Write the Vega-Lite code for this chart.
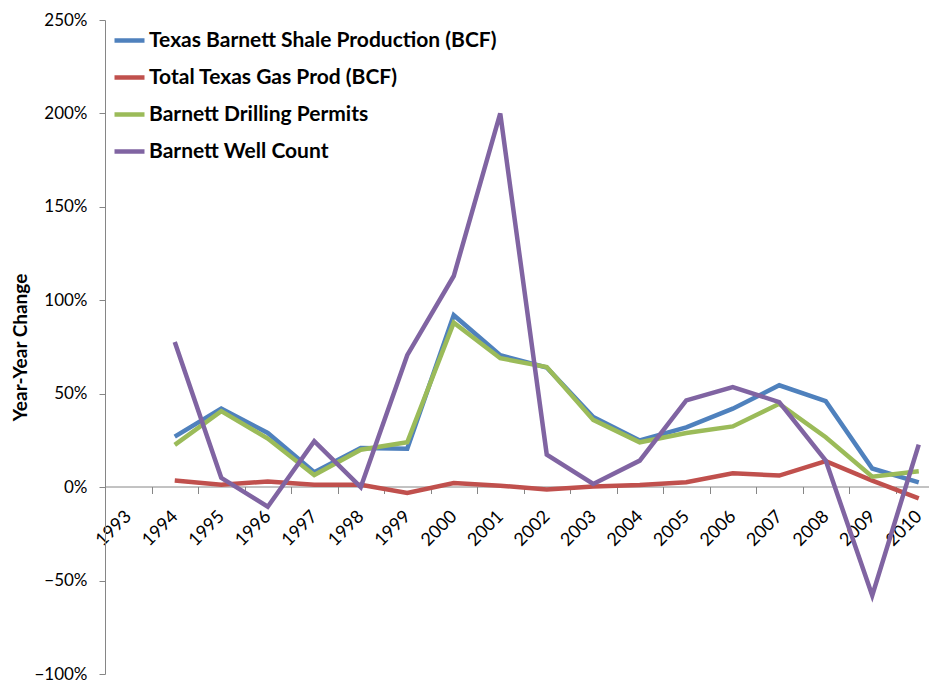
{
  "$schema": "https://vega.github.io/schema/vega-lite/v6.json",
  "autosize": {"type": "none"},
  "padding": {"left": 105, "top": 20, "right": 0, "bottom": 8},
  "width": 824,
  "height": 654,
  "config": {"font": "Lato", "view": {"stroke": null}},
  "data": {
    "values": [
      {"year": "1994", "series": "Texas Barnett Shale Production (BCF)", "value": 0.27},
      {"year": "1995", "series": "Texas Barnett Shale Production (BCF)", "value": 0.42},
      {"year": "1996", "series": "Texas Barnett Shale Production (BCF)", "value": 0.29},
      {"year": "1997", "series": "Texas Barnett Shale Production (BCF)", "value": 0.08},
      {"year": "1998", "series": "Texas Barnett Shale Production (BCF)", "value": 0.21},
      {"year": "1999", "series": "Texas Barnett Shale Production (BCF)", "value": 0.205},
      {"year": "2000", "series": "Texas Barnett Shale Production (BCF)", "value": 0.92},
      {"year": "2001", "series": "Texas Barnett Shale Production (BCF)", "value": 0.706},
      {"year": "2002", "series": "Texas Barnett Shale Production (BCF)", "value": 0.64},
      {"year": "2003", "series": "Texas Barnett Shale Production (BCF)", "value": 0.375},
      {"year": "2004", "series": "Texas Barnett Shale Production (BCF)", "value": 0.25},
      {"year": "2005", "series": "Texas Barnett Shale Production (BCF)", "value": 0.32},
      {"year": "2006", "series": "Texas Barnett Shale Production (BCF)", "value": 0.42},
      {"year": "2007", "series": "Texas Barnett Shale Production (BCF)", "value": 0.545},
      {"year": "2008", "series": "Texas Barnett Shale Production (BCF)", "value": 0.46},
      {"year": "2009", "series": "Texas Barnett Shale Production (BCF)", "value": 0.10},
      {"year": "2010", "series": "Texas Barnett Shale Production (BCF)", "value": 0.026},
      {"year": "1994", "series": "Total Texas Gas Prod (BCF)", "value": 0.035},
      {"year": "1995", "series": "Total Texas Gas Prod (BCF)", "value": 0.013},
      {"year": "1996", "series": "Total Texas Gas Prod (BCF)", "value": 0.03},
      {"year": "1997", "series": "Total Texas Gas Prod (BCF)", "value": 0.013},
      {"year": "1998", "series": "Total Texas Gas Prod (BCF)", "value": 0.013},
      {"year": "1999", "series": "Total Texas Gas Prod (BCF)", "value": -0.031},
      {"year": "2000", "series": "Total Texas Gas Prod (BCF)", "value": 0.022},
      {"year": "2001", "series": "Total Texas Gas Prod (BCF)", "value": 0.008},
      {"year": "2002", "series": "Total Texas Gas Prod (BCF)", "value": -0.013},
      {"year": "2003", "series": "Total Texas Gas Prod (BCF)", "value": 0.004},
      {"year": "2004", "series": "Total Texas Gas Prod (BCF)", "value": 0.012},
      {"year": "2005", "series": "Total Texas Gas Prod (BCF)", "value": 0.026},
      {"year": "2006", "series": "Total Texas Gas Prod (BCF)", "value": 0.074},
      {"year": "2007", "series": "Total Texas Gas Prod (BCF)", "value": 0.062},
      {"year": "2008", "series": "Total Texas Gas Prod (BCF)", "value": 0.139},
      {"year": "2009", "series": "Total Texas Gas Prod (BCF)", "value": 0.035},
      {"year": "2010", "series": "Total Texas Gas Prod (BCF)", "value": -0.06},
      {"year": "1994", "series": "Barnett Drilling Permits", "value": 0.226},
      {"year": "1995", "series": "Barnett Drilling Permits", "value": 0.407},
      {"year": "1996", "series": "Barnett Drilling Permits", "value": 0.26},
      {"year": "1997", "series": "Barnett Drilling Permits", "value": 0.065},
      {"year": "1998", "series": "Barnett Drilling Permits", "value": 0.20},
      {"year": "1999", "series": "Barnett Drilling Permits", "value": 0.24},
      {"year": "2000", "series": "Barnett Drilling Permits", "value": 0.88},
      {"year": "2001", "series": "Barnett Drilling Permits", "value": 0.69},
      {"year": "2002", "series": "Barnett Drilling Permits", "value": 0.643},
      {"year": "2003", "series": "Barnett Drilling Permits", "value": 0.36},
      {"year": "2004", "series": "Barnett Drilling Permits", "value": 0.24},
      {"year": "2005", "series": "Barnett Drilling Permits", "value": 0.29},
      {"year": "2006", "series": "Barnett Drilling Permits", "value": 0.325},
      {"year": "2007", "series": "Barnett Drilling Permits", "value": 0.446},
      {"year": "2008", "series": "Barnett Drilling Permits", "value": 0.267},
      {"year": "2009", "series": "Barnett Drilling Permits", "value": 0.056},
      {"year": "2010", "series": "Barnett Drilling Permits", "value": 0.085},
      {"year": "1994", "series": "Barnett Well Count", "value": 0.777},
      {"year": "1995", "series": "Barnett Well Count", "value": 0.05},
      {"year": "1996", "series": "Barnett Well Count", "value": -0.105},
      {"year": "1997", "series": "Barnett Well Count", "value": 0.246},
      {"year": "1998", "series": "Barnett Well Count", "value": 0.0},
      {"year": "1999", "series": "Barnett Well Count", "value": 0.706},
      {"year": "2000", "series": "Barnett Well Count", "value": 1.13},
      {"year": "2001", "series": "Barnett Well Count", "value": 2.0},
      {"year": "2002", "series": "Barnett Well Count", "value": 0.174},
      {"year": "2003", "series": "Barnett Well Count", "value": 0.017},
      {"year": "2004", "series": "Barnett Well Count", "value": 0.142},
      {"year": "2005", "series": "Barnett Well Count", "value": 0.464},
      {"year": "2006", "series": "Barnett Well Count", "value": 0.536},
      {"year": "2007", "series": "Barnett Well Count", "value": 0.455},
      {"year": "2008", "series": "Barnett Well Count", "value": 0.142},
      {"year": "2009", "series": "Barnett Well Count", "value": -0.58},
      {"year": "2010", "series": "Barnett Well Count", "value": 0.228}
    ]
  },
  "mark": {"type": "line", "strokeWidth": 4.5, "strokeJoin": "miter"},
  "encoding": {
    "x": {
      "field": "year",
      "type": "ordinal",
      "bandPosition": 0.5,
      "scale": {
        "type": "band",
        "domain": ["1993","1994","1995","1996","1997","1998","1999","2000","2001","2002","2003","2004","2005","2006","2007","2008","2009","2010"],
        "range": [0, 837],
        "paddingInner": 0,
        "paddingOuter": 0
      },
      "axis": {
        "orient": "bottom",
        "offset": -187.5,
        "title": null,
        "grid": false,
        "tickBand": "extent",
        "tickSize": 7,
        "tickColor": "#868686",
        "domainColor": "#868686",
        "labelAngle": -45,
        "labelAlign": "right",
        "labelBaseline": "middle",
        "labelPadding": 20,
        "labelFontSize": 18,
        "labelColor": "#000000",
        "labelOverlap": false,
        "labelFlush": false
      }
    },
    "y": {
      "field": "value",
      "type": "quantitative",
      "scale": {"domain": [-1, 2.5], "nice": false, "zero": false},
      "axis": {
        "values": [-1, -0.5, 0, 0.5, 1, 1.5, 2, 2.5],
        "format": ".0%",
        "grid": false,
        "tickSize": 6,
        "tickColor": "#868686",
        "domainColor": "#868686",
        "labelPadding": 12,
        "labelFontSize": 17,
        "labelColor": "#000000",
        "title": "Year-Year Change",
        "titleFontSize": 19,
        "titleFontWeight": "bold",
        "titleColor": "#000000",
        "titlePadding": 3
      }
    },
    "color": {
      "field": "series",
      "type": "nominal",
      "scale": {
        "domain": ["Texas Barnett Shale Production (BCF)", "Total Texas Gas Prod (BCF)", "Barnett Drilling Permits", "Barnett Well Count"],
        "range": ["#4F81BD", "#C0504D", "#9BBB59", "#8064A2"]
      },
      "legend": {
        "orient": "none",
        "legendX": 7,
        "legendY": 3,
        "title": null,
        "symbolType": "stroke",
        "symbolSize": 900,
        "symbolStrokeWidth": 4.5,
        "labelFontSize": 21,
        "labelFontWeight": "bold",
        "labelColor": "#000000",
        "labelOffset": 2,
        "rowPadding": 9,
        "labelLimit": 600
      }
    }
  }
}
